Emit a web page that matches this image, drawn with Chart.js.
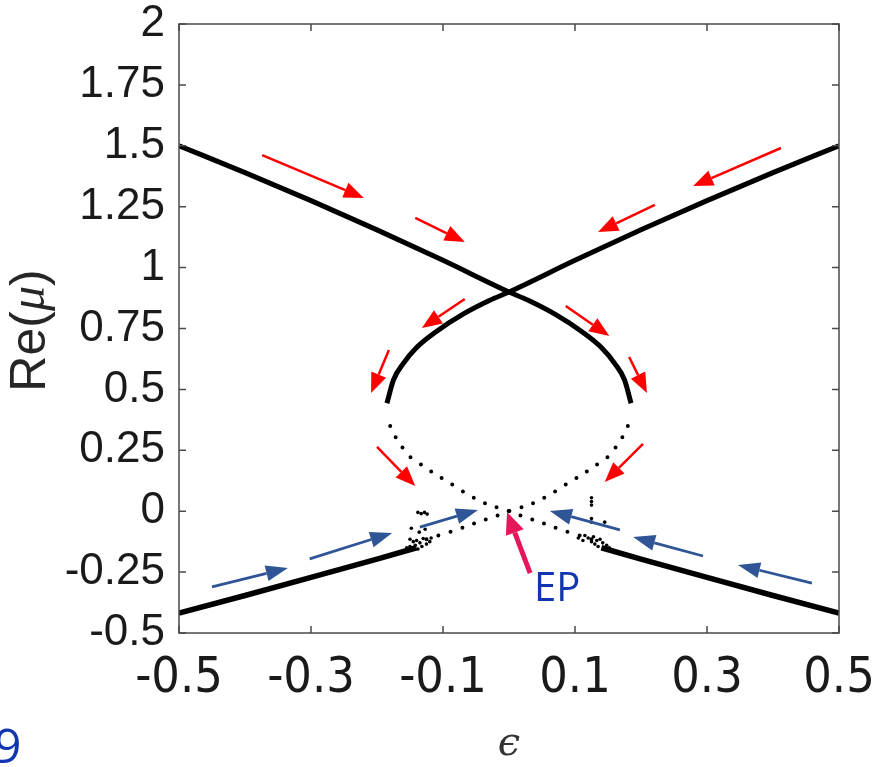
<!DOCTYPE html>
<html>
<head>
<meta charset="utf-8">
<script src="https://cdn.jsdelivr.net/npm/chart.js@4.4.0/dist/chart.umd.min.js"></script>
<style>
  html, body { margin: 0; padding: 0; background: #ffffff; }
  #cadre { width: 873px; height: 767px; }
</style>
</head>
<body>
<div id="cadre"><canvas id="myChartMu"></canvas></div>
<script>
//? Données : Re(mu) en fonction de epsilon.

const graduationsX = [-0.5, -0.3, -0.1, 0.1, 0.3, 0.5];
const graduationsY = [-0.5, -0.25, 0, 0.25, 0.5, 0.75, 1, 1.25, 1.5, 1.75, 2];

//? Branche pleine descendante (haut gauche -> pointe droite)
const epsilonBrancheA = [-0.5, -0.4, -0.3, -0.2, -0.1, 0, 0.029, 0.069, 0.11, 0.14, 0.16, 0.175, 0.185];
const reMuBrancheA = [1.5, 1.39, 1.275, 1.155, 1.03, 0.9, 0.866, 0.81, 0.738, 0.672, 0.607, 0.539, 0.443];

//? Branche pleine montante (pointe gauche -> haut droite)
const epsilonBrancheB = [-0.185, -0.175, -0.16, -0.14, -0.11, -0.069, -0.029, 0, 0.1, 0.2, 0.3, 0.4, 0.5];
const reMuBrancheB = [0.443, 0.539, 0.607, 0.672, 0.738, 0.81, 0.866, 0.9, 1.03, 1.155, 1.275, 1.39, 1.5];

//? Branches pleines du bas
const epsilonBasGauche = [-0.5, -0.4, -0.3, -0.2, -0.14];
const reMuBasGauche = [-0.418, -0.346, -0.272, -0.197, -0.15];
const epsilonBasDroite = [0.14, 0.2, 0.3, 0.4, 0.5];
const reMuBasDroite = [-0.15, -0.197, -0.272, -0.346, -0.418];

//? Branches en pointillés qui se croisent au point EP
const epsilonPointilleA = [-0.18, -0.17, -0.15, -0.13, -0.11, -0.089, -0.069, -0.049, -0.029, 0, 0.02, 0.042, 0.062, 0.087, 0.113, 0.133];
const reMuPointilleA = [0.35, 0.295, 0.224, 0.186, 0.149, 0.115, 0.08, 0.049, 0.025, 0, -0.02, -0.04, -0.06, -0.083, -0.105, -0.122];
const epsilonPointilleB = [0.18, 0.17, 0.15, 0.13, 0.11, 0.089, 0.069, 0.049, 0.029, 0, -0.02, -0.042, -0.062, -0.087, -0.113, -0.133];
const reMuPointilleB = [0.35, 0.295, 0.224, 0.186, 0.149, 0.115, 0.08, 0.049, 0.025, 0, -0.02, -0.04, -0.06, -0.083, -0.105, -0.122];

//? Nuages de points près de epsilon = +/-0.13
const epsilonNuage = [-0.138, -0.133, -0.128, -0.124, -0.148, -0.136, -0.127, -0.118, -0.15, -0.145, -0.14, -0.135, -0.13, -0.125, -0.142, -0.15, -0.155, -0.132, -0.138, -0.12,
  0.125, 0.125, 0.125, 0.125, 0.125, 0.145, 0.115, 0.12, 0.128, 0.133, 0.138, 0.142, 0.13, 0.125, 0.148, 0.152, 0.135, 0.145, 0.105, 0.112];
const reMuNuage = [-0.005, -0.01, -0.005, -0.012, -0.07, -0.086, -0.074, -0.11, -0.115, -0.125, -0.12, -0.13, -0.112, -0.135, -0.14, -0.145, -0.15, -0.145, -0.155, -0.125,
  0.055, 0.04, 0.025, -0.03, -0.045, -0.045, -0.1, -0.11, -0.105, -0.12, -0.115, -0.13, -0.135, -0.125, -0.14, -0.15, -0.145, -0.155, -0.11, -0.12];

//? Flèches [eps1, re1, eps2, re2] (de la queue vers la pointe)
const flechesRouges = [
  [-0.374, 1.462, -0.22, 1.286],
  [-0.142, 1.204, -0.067, 1.105],
  [0.412, 1.491, 0.279, 1.335],
  [0.221, 1.257, 0.135, 1.146],
  [-0.067, 0.871, -0.132, 0.752],
  [0.086, 0.842, 0.152, 0.719],
  [-0.182, 0.662, -0.209, 0.485],
  [0.182, 0.633, 0.209, 0.485],
  [-0.2, 0.264, -0.142, 0.103],
  [0.203, 0.276, 0.145, 0.12],
];
const flechesBleues = [
  [-0.45, -0.311, -0.335, -0.233],
  [-0.302, -0.196, -0.177, -0.089],
  [-0.135, -0.065, -0.047, 0.005],
  [0.168, -0.077, 0.062, 0.001],
  [0.294, -0.184, 0.188, -0.106],
  [0.459, -0.295, 0.347, -0.221],
];
const flecheEP = [0.032, -0.254, -0.003, -0.003];
const texteEP = { eps: 0.073, reMu: -0.323, label: "EP" };

//? -------------------------------------------------

const versPoints = (xs, ys) => xs.map((x, i) => ({ x, y: ys[i] }));

const dessinerFleche = (ctx, x1, y1, x2, y2, couleur, epaisseur, longueurTete, largeurTete) => {
  const angle = Math.atan2(y2 - y1, x2 - x1);
  const bx = x2 - longueurTete * Math.cos(angle);
  const by = y2 - longueurTete * Math.sin(angle);
  ctx.strokeStyle = couleur;
  ctx.lineWidth = epaisseur;
  ctx.lineCap = "butt";
  ctx.beginPath();
  ctx.moveTo(x1, y1);
  ctx.lineTo(bx, by);
  ctx.stroke();
  ctx.fillStyle = couleur;
  ctx.beginPath();
  ctx.moveTo(x2, y2);
  ctx.lineTo(bx + (largeurTete / 2) * Math.sin(angle), by - (largeurTete / 2) * Math.cos(angle));
  ctx.lineTo(bx - (largeurTete / 2) * Math.sin(angle), by + (largeurTete / 2) * Math.cos(angle));
  ctx.closePath();
  ctx.fill();
};

//? Cadre + graduations vers l'intérieur (style MATLAB)
const cadreEtGraduations = {
  id: "cadreEtGraduations",
  afterDatasetsDraw(chart) {
    const { ctx, chartArea: { left, right, top, bottom }, scales: { x, y } } = chart;
    ctx.save();
    ctx.strokeStyle = "#4a4a4a";
    ctx.lineWidth = 1.5;
    ctx.beginPath();
    graduationsX.forEach((v) => {
      const px = x.getPixelForValue(v);
      ctx.moveTo(px, bottom); ctx.lineTo(px, bottom - 7);
      ctx.moveTo(px, top); ctx.lineTo(px, top + 7);
    });
    graduationsY.forEach((v) => {
      const py = y.getPixelForValue(v);
      ctx.moveTo(left, py); ctx.lineTo(left + 7, py);
      ctx.moveTo(right, py); ctx.lineTo(right - 7, py);
    });
    ctx.stroke();
    ctx.strokeRect(left, top, right - left, bottom - top);
    ctx.restore();
  },
};

//? Flèches rouges / bleues et annotation EP
const annotations = {
  id: "annotations",
  afterDraw(chart) {
    const { ctx, scales: { x, y } } = chart;
    ctx.save();
    flechesRouges.forEach(([a, b, c, d]) =>
      dessinerFleche(ctx, x.getPixelForValue(a), y.getPixelForValue(b), x.getPixelForValue(c), y.getPixelForValue(d), "#ff0000", 2.5, 20, 16)
    );
    flechesBleues.forEach(([a, b, c, d]) =>
      dessinerFleche(ctx, x.getPixelForValue(a), y.getPixelForValue(b), x.getPixelForValue(c), y.getPixelForValue(d), "#2f5597", 2.8, 22, 16)
    );
    const [e1, r1, e2, r2] = flecheEP;
    dessinerFleche(ctx, x.getPixelForValue(e1), y.getPixelForValue(r1), x.getPixelForValue(e2), y.getPixelForValue(r2), "#e5175b", 5, 22, 19);

    ctx.fillStyle = "#1136b0";
    ctx.font = "40px 'Open Sans', 'Noto Sans', sans-serif";
    ctx.textAlign = "center";
    ctx.textBaseline = "middle";
    ctx.fillText(texteEP.label, x.getPixelForValue(texteEP.eps), y.getPixelForValue(texteEP.reMu));

    //? numéro de diapo coupé en bas à gauche
    ctx.textAlign = "left";
    ctx.textBaseline = "alphabetic";
    ctx.font = "48px 'Open Sans', 'Noto Sans', sans-serif";
    ctx.fillText("9", -6, 763);

    //? titre de l'axe Y : Re(µ) avec µ en italique
    const morceaux = [
      { t: "Re(", f: "50px 'Liberation Sans', Arial, sans-serif" },
      { t: "μ", f: "italic 50px 'Liberation Serif', 'DejaVu Serif', serif" },
      { t: ")", f: "50px 'Liberation Sans', Arial, sans-serif" },
    ];
    let largeur = 0;
    morceaux.forEach((m) => { ctx.font = m.f; m.w = ctx.measureText(m.t).width; largeur += m.w; });
    const { top, bottom } = chart.chartArea;
    ctx.translate(31, (top + bottom) / 2 + 2);
    ctx.rotate(-Math.PI / 2);
    ctx.fillStyle = "#262626";
    ctx.textBaseline = "middle";
    let cx = -largeur / 2;
    morceaux.forEach((m) => { ctx.font = m.f; ctx.fillText(m.t, cx, 0); cx += m.w; });
    ctx.restore();
  },
};

//? -------------------------------------------------

const styleTrait = { showLine: true, pointRadius: 0, borderColor: "#000000", borderWidth: 5, cubicInterpolationMode: "monotone", fill: false };
const stylePointille = { showLine: true, pointRadius: 0, borderColor: "#000000", borderWidth: 4, borderDash: [0, 12.5], borderCapStyle: "round", tension: 0.3, fill: false };

const ctxMu = document.getElementById("myChartMu").getContext("2d");

new Chart(ctxMu, {
  type: "scatter",
  data: {
    datasets: [
      { label: "Pointillé A", data: versPoints(epsilonPointilleA, reMuPointilleA), ...stylePointille },
      { label: "Pointillé B", data: versPoints(epsilonPointilleB, reMuPointilleB), ...stylePointille },
      { label: "Nuage", data: versPoints(epsilonNuage, reMuNuage), showLine: false, pointRadius: 1.8, pointBorderWidth: 0, pointBackgroundColor: "#000000" },
      { label: "Bas gauche", data: versPoints(epsilonBasGauche, reMuBasGauche), ...styleTrait, borderWidth: 5.5, cubicInterpolationMode: "default", tension: 0 },
      { label: "Bas droite", data: versPoints(epsilonBasDroite, reMuBasDroite), ...styleTrait, borderWidth: 5.5, cubicInterpolationMode: "default", tension: 0 },
      { label: "Branche A", data: versPoints(epsilonBrancheA, reMuBrancheA), ...styleTrait },
      { label: "Branche B", data: versPoints(epsilonBrancheB, reMuBrancheB), ...styleTrait },
    ],
  },
  options: {
    responsive: true,
    maintainAspectRatio: false,
    animation: false,
    devicePixelRatio: 1,
    layout: { padding: { top: 24, right: 34, left: 0, bottom: 0 } },
    plugins: { legend: { display: false }, tooltip: { enabled: false } },
    scales: {
      x: {
        type: "linear",
        min: -0.5,
        max: 0.5,
        grid: { display: false, drawTicks: false },
        border: { display: false },
        afterBuildTicks: (scale) => { scale.ticks = graduationsX.map((value) => ({ value })); },
        afterFit: (scale) => { scale.height = 134; scale.paddingLeft = 0; scale.paddingRight = 0; },
        ticks: {
          autoSkip: false,
          maxRotation: 0,
          padding: 16,
          color: "#1a1a1a",
          font: { family: "'Liberation Sans Narrow', 'DejaVu Sans Condensed', 'Liberation Sans', sans-serif", size: 50 },
          callback: (v) => String(v),
        },
        title: {
          display: true,
          text: "ϵ",
          color: "#333333",
          font: { family: "'DejaVu Serif', 'Liberation Serif', serif", style: "italic", size: 40, lineHeight: 1 },
          padding: { top: 0, bottom: 2 },
        },
      },
      y: {
        type: "linear",
        min: -0.5,
        max: 2,
        grid: { display: false, drawTicks: false },
        border: { display: false },
        afterBuildTicks: (scale) => { scale.ticks = graduationsY.map((value) => ({ value })); },
        afterFit: (scale) => { scale.width = 179; scale.paddingTop = 0; scale.paddingBottom = 0; },
        ticks: {
          autoSkip: false,
          padding: 14,
          color: "#1a1a1a",
          font: { family: "'Liberation Sans', Arial, sans-serif", size: 44 },
          callback: (v) => String(v),
        },
      },
    },
  },
  plugins: [cadreEtGraduations, annotations],
});
</script>
</body>
</html>
